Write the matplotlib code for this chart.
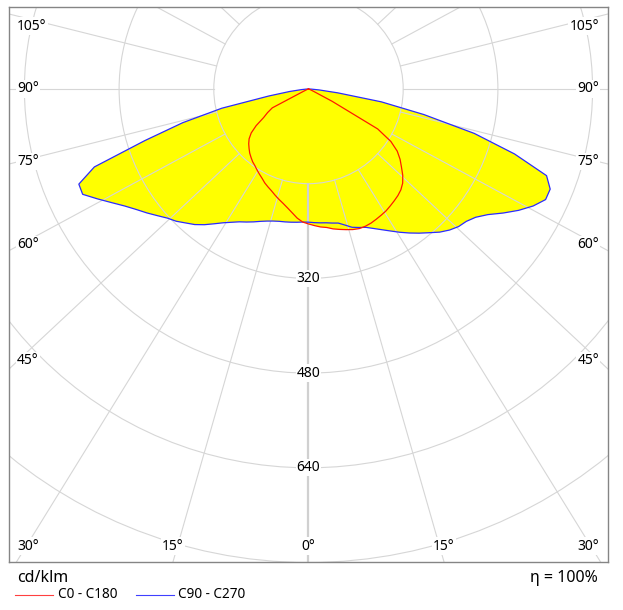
import numpy as np
import matplotlib
matplotlib.use("Agg")
import matplotlib.pyplot as plt
from matplotlib.patches import Circle, Polygon
from matplotlib.lines import Line2D

plt.rcParams['font.family'] = ['Noto Sans', 'DejaVu Sans']

# ---- data (cd/klm) ----
gamma = [0, 2.5, 5, 7.5, 10, 12.5, 15, 17.5, 20, 22.5, 25, 27.5, 30, 32.5, 35, 37.5,
         40, 42.5, 45, 47.5, 50, 52.5, 55, 57.5, 60, 62.5, 65, 67.5, 70, 72.5, 75,
         77.5, 80, 82.5, 85, 87.5, 90]
c0 = [229, 231, 234, 236, 240, 243, 246, 249, 251, 251, 250, 248, 246, 244, 241, 238,
      235, 231, 225, 216, 205, 195, 183, 165, 135, 45, 10, 5, 3, 2, 1,
      1, 0, 0, 0, 0, 0]
c180 = [228, 225, 219, 211, 204, 198, 193, 188, 183, 179, 175, 170, 166, 162, 158, 155,
        151, 147, 142, 137, 131, 122, 108, 90, 80, 69, 10, 5, 3, 2, 1,
        1, 0, 0, 0, 0, 0]
c90 = [225, 226, 227, 228, 230, 232, 238, 245, 249, 253, 260, 268, 277, 287, 297, 307,
       317, 328, 337, 344, 348, 356, 370, 390, 410, 428, 442, 442, 428, 365, 290,
       200, 125, 50, 18, 5, 0]
c270 = [225, 225, 226, 227, 228, 229, 231, 234, 238, 243, 248, 253, 260, 268, 278, 289,
        299, 307, 316, 323, 333, 344, 355, 368, 384, 402, 421, 420, 385, 290, 220,
        150, 68, 32, 12, 4, 0]

ring_values = [160, 320, 480, 640, 800, 960]
ring_labels = [320, 480, 640]
angle_lines = [15, 30, 45, 60, 75, 90, 105, 120, 135, 150, 165]
angle_labels = [15, 30, 45, 60, 75, 90, 105]

# ---- layout ----
W, H = 623, 610
L, R, T, B = 9, 608, 7, 562
cx, cy = 308.5, 89.0
s = 94.7 / 160.0          # px per cd/klm
k = 0.935                 # drawing skew of radial grid lines

fig = plt.figure(figsize=(W / 100, H / 100), dpi=100)
ax = fig.add_axes([L / W, (H - B) / H, (R - L) / W, (B - T) / H])
ax.set_xlim((L - cx) / s, (R - cx) / s)
ax.set_ylim((cy - B) / s, (cy - T) / s)
ax.set_xticks([]); ax.set_yticks([])
for sp in ax.spines.values():
    sp.set_color('#858585'); sp.set_linewidth(1.0)

def to_data(px, py):
    return (px - cx) / s, (cy - py) / s

g = np.radians(np.array(gamma))

def curve(left, right):
    left = np.array(left, float); right = np.array(right, float)
    xl = -left * np.sin(g); yl = -left * np.cos(g)
    xr = right * np.sin(g); yr = -right * np.cos(g)
    x = np.concatenate([xl[::-1], xr[1:]])
    y = np.concatenate([yl[::-1], yr[1:]])
    return x, y

xb, yb = curve(c270, c90)
xr_, yr_ = curve(c180, c0)
ax.add_patch(Polygon(np.column_stack([xb, yb]), closed=True, facecolor='#ffff00',
                     edgecolor='none', zorder=1))
ax.add_patch(Polygon(np.column_stack([xr_, yr_]), closed=True, facecolor='#ffff00',
                     edgecolor='none', zorder=1))

grid_c = '#d6d6d6'
for rv in ring_values:
    ax.add_patch(Circle((0, 0), rv, fill=False, edgecolor=grid_c, lw=0.8, zorder=2))

# radial lines
def direction(a, side):
    phi = np.radians(90 - a)
    phid = np.arctan(k * np.tan(phi)) if a != 90 else 0.0
    return side * np.cos(phid), -np.sin(phid)

ax.plot([0, 0], [-160, -1500], color='#d0d0d0', lw=1.6, zorder=2)
for a in angle_lines:
    for side in (-1, 1):
        dx, dy = direction(a, side)
        ax.plot([160 * dx, 1500 * dx], [160 * dy, 1500 * dy], color=grid_c, lw=0.8, zorder=2)

ax.plot(xb, yb, color='#2b2bff', lw=0.9, zorder=3)
ax.plot(xr_, yr_, color='#ff1a00', lw=0.9, zorder=3)

lab_kw = dict(fontsize=10, color='black', zorder=5,
              bbox=dict(facecolor='white', edgecolor='none', pad=0.8))

for rv in ring_labels:
    ax.text(0, -rv, str(rv), ha='center', va='center', **lab_kw)

def place_label(a, side):
    dx, dy = direction(a, side)
    dxp, dyp = dx, -dy          # pixel direction (y down)
    ts = []
    if dxp > 1e-9: ts.append(((R - cx) / dxp, 'side'))
    if dxp < -1e-9: ts.append(((cx - L) / -dxp, 'side'))
    if dyp > 1e-9: ts.append(((B - cy) / dyp, 'bottom'))
    if dyp < -1e-9: ts.append(((cy - T) / -dyp, 'side'))
    t, where = min(ts)
    px, py = cx + t * dxp, cy + t * dyp
    if where == 'bottom':
        py = 546
        if px > 585:
            px, ha = 599, 'right'
        elif px < 31:
            px, ha = 17, 'left'
        else:
            ha = 'center'
    else:
        py = min(max(py - 12 * dyp, 26), 546)
        px, ha = (599, 'right') if side > 0 else (17, 'left')
    x, y = to_data(px, py)
    ax.text(x, y, f"{a}\u00b0", ha=ha, va='center', **lab_kw)

place_label(0, 1)
for a in angle_labels:
    for side in (-1, 1):
        place_label(a, side)

# ---- footer ----
fig.text(17 / W, 1 - 578 / H, 'cd/klm', ha='left', va='center', fontsize=11.5, color='black')
fig.text(598 / W, 1 - 578 / H, '\u03b7 = 100%', ha='right', va='center', fontsize=11.5, color='black')
fig.add_artist(Line2D([15 / W, 53 / W], [1 - 595 / H] * 2, color='#ff4040', lw=0.8,
                      transform=fig.transFigure))
fig.text(58 / W, 1 - 595 / H, 'C0 - C180', ha='left', va='center', fontsize=9.8, color='black')
fig.add_artist(Line2D([136 / W, 174 / W], [1 - 595 / H] * 2, color='#4040ff', lw=0.8,
                      transform=fig.transFigure))
fig.text(178 / W, 1 - 595 / H, 'C90 - C270', ha='left', va='center', fontsize=9.8, color='black')

fig.savefig('out.png', dpi=100, facecolor='white')
